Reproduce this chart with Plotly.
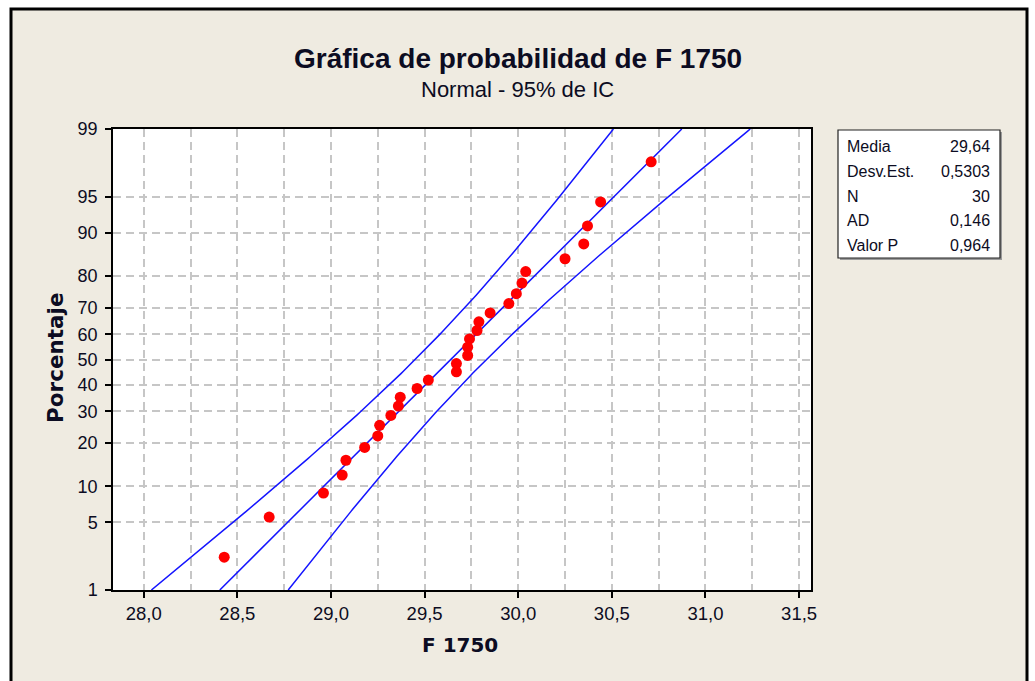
import plotly.graph_objects as go
from statistics import NormalDist

# ---------------- data ----------------
f1750 = [28.43, 28.67, 28.96, 29.06, 29.08, 29.18, 29.25, 29.26, 29.32, 29.36,
         29.37, 29.46, 29.52, 29.67, 29.67, 29.73, 29.73, 29.74, 29.78, 29.79,
         29.85, 29.95, 29.99, 30.02, 30.04, 30.25, 30.35, 30.37, 30.44, 30.71]
percent = [2.30, 5.59, 8.88, 12.17, 15.46, 18.75, 22.04, 25.33, 28.62, 31.91,
           35.20, 38.49, 41.78, 45.07, 48.36, 51.64, 54.93, 58.22, 61.51, 64.80,
           68.09, 71.38, 74.67, 77.96, 81.25, 84.54, 87.83, 91.12, 94.41, 97.70]

stat_labels = ["Media", "Desv.Est.", "N", "AD", "Valor P"]
stat_texts = ["29,64", "0,5303", "30", "0,146", "0,964"]
media = 29.64
desv = 0.5303
n_obs = 30

y_tick_pct = [1, 5, 10, 20, 30, 40, 50, 60, 70, 80, 90, 95, 99]
x_tick_vals = [28.0, 28.5, 29.0, 29.5, 30.0, 30.5, 31.0, 31.5]
x_tick_text = ["28,0", "28,5", "29,0", "29,5", "30,0", "30,5", "31,0", "31,5"]

title_text = "Gráfica de probabilidad de F 1750"
subtitle_text = "Normal - 95% de IC"
x_title = "F 1750"
y_title = "Porcentaje"

# ---------------- geometry ----------------
W, H = 1035, 681
L, R, T, B = 113, W - 811, 129, H - 590
PW, PH = W - L - R, H - T - B


def xp(px):
    return (px - L) / PW


def yp(py):
    return (H - B - py) / PH


nd = NormalDist()
zmin, zmax = nd.inv_cdf(0.01), nd.inv_cdf(0.99)
zc = nd.inv_cdf(0.975)

y_pts = [nd.inv_cdf(p / 100.0) for p in percent]
y_tick_z = [nd.inv_cdf(p / 100.0) for p in y_tick_pct]

# fitted line and 95% CI
zs = [zmin + (zmax - zmin) * k / 200 for k in range(201)]
fit_x = [media + z * desv for z in zs]
half = [zc * desv * ((1 + z * z / 2) / n_obs) ** 0.5 for z in zs]
lo_x = [f - h for f, h in zip(fit_x, half)]
hi_x = [f + h for f, h in zip(fit_x, half)]

FONT = "Liberation Sans"
BFONT = "DejaVu Sans"
TXT = "#0c0c22"
BLUE = "#1414ff"

fig = go.Figure()
for xs in (hi_x, fit_x, lo_x):
    fig.add_trace(go.Scatter(x=xs, y=zs, mode="lines",
                             line=dict(color=BLUE, width=1.5),
                             hoverinfo="skip", showlegend=False))
fig.add_trace(go.Scatter(x=f1750, y=y_pts, mode="markers",
                         marker=dict(color="#ff0000", size=11, line=dict(width=0)),
                         showlegend=False))

grid = dict(showgrid=True, gridcolor="#c6c6c6", gridwidth=1.5, griddash="8px,5px")

fig.update_xaxes(range=[28.0 - (143.6 - 112.9) / 187.2, 31.5 + (810.7 - 798.8) / 187.2],
                 tickvals=x_tick_vals, ticktext=x_tick_text,
                 ticks="outside", ticklen=6, tickwidth=1.5, tickcolor="black",
                 showline=True, linecolor="black", linewidth=1.5, mirror=True,
                 zeroline=False,
                 tickfont=dict(family=FONT, size=18.5, color=TXT),
                 minor=dict(dtick=0.25, tick0=28.0, showgrid=True, gridcolor="#c6c6c6",
                            gridwidth=1.5, griddash="8px,5px", ticks=""),
                 **grid)
fig.update_yaxes(range=[zmin, zmax],
                 tickvals=y_tick_z, ticktext=[str(v) for v in y_tick_pct],
                 ticks="outside", ticklen=6, tickwidth=1.5, tickcolor="black",
                 showline=True, linecolor="black", linewidth=1.5, mirror=True,
                 zeroline=False, ticklabelstandoff=4,
                 tickfont=dict(family=FONT, size=18, color=TXT),
                 **grid)

shapes = [
    # outer beige frame
    dict(type="rect", xref="paper", yref="paper", layer="below",
         x0=xp(11), x1=xp(1027), y0=yp(9), y1=yp(700),
         fillcolor="#efebe1", line=dict(color="black", width=3)),
    # white plot area
    dict(type="rect", xref="paper", yref="paper", layer="below",
         x0=0, x1=1, y0=0, y1=1, fillcolor="white", line=dict(width=0)),
    # stats box shadow + box
    dict(type="rect", xref="paper", yref="paper",
         x0=xp(840), x1=xp(1002), y0=yp(132), y1=yp(260),
         fillcolor="#9a9a9a", line=dict(width=0)),
    dict(type="rect", xref="paper", yref="paper",
         x0=xp(838), x1=xp(1000), y0=yp(130), y1=yp(258),
         fillcolor="white", line=dict(color="#222222", width=1.2)),
]

ann = [
    dict(text="<b>" + title_text + "</b>", x=xp(517.5), y=yp(58),
         font=dict(family=FONT, size=28, color=TXT)),
    dict(text=subtitle_text, x=xp(517.5), y=yp(89),
         font=dict(family=FONT, size=22, color=TXT)),
    dict(text="<b>" + x_title + "</b>", x=xp(460), y=yp(645),
         font=dict(family=BFONT, size=20, color=TXT)),
    dict(text="<b>" + y_title + "</b>", x=xp(55), y=yp(358), textangle=-90,
         font=dict(family=BFONT, size=21.5, color=TXT)),
]
row_y = [146, 171, 196, 220, 245]
for lab, val, ry in zip(stat_labels, stat_texts, row_y):
    ann.append(dict(text=lab, x=xp(845), y=yp(ry), xanchor="left",
                    font=dict(family=FONT, size=16, color=TXT)))
    ann.append(dict(text=val, x=xp(992), y=yp(ry), xanchor="right",
                    font=dict(family=FONT, size=16, color=TXT)))
for a in ann:
    a.update(xref="paper", yref="paper", showarrow=False)
    a.setdefault("xanchor", "center")
    a.setdefault("yanchor", "middle")

fig.update_layout(width=W, height=H, margin=dict(l=L, r=R, t=T, b=B, autoexpand=False),
                  paper_bgcolor="white", plot_bgcolor="white",
                  shapes=shapes, annotations=ann, showlegend=False)

fig.write_html("out.html", config={"displayModeBar": False},
               post_script="document.body.style.margin='0px';document.body.style.overflow='hidden';")
